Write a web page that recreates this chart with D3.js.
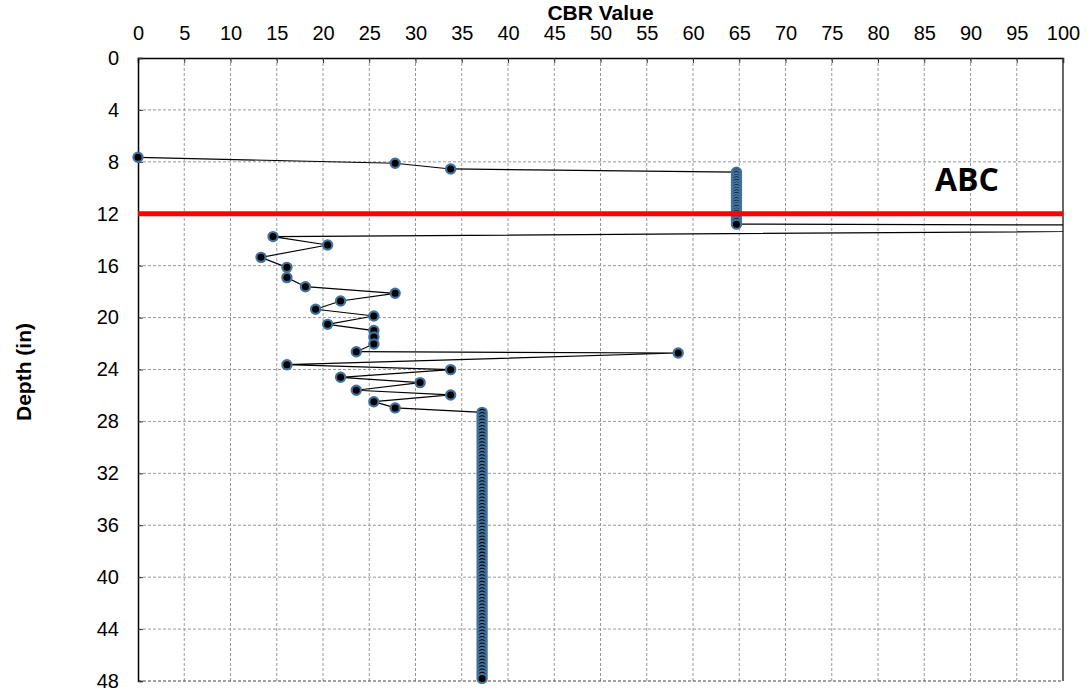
<!DOCTYPE html>
<html>
<head>
<meta charset="utf-8">
<script src="https://cdn.jsdelivr.net/npm/d3@7"></script>
<style>
  body { margin: 0; background: #fff; }
  text { font-family: "Liberation Sans", Arial, sans-serif; }
</style>
</head>
<body>
<svg id="chart"></svg>
<script>
// readings from the top down to the first dense run
const topCbr = [0, 27.8, 33.8];
const topDepth = [7.65, 8.11, 8.55];

// dense run at ~65
const upperCbr = 64.7;
const upperDepth = [8.8, 9.0, 9.2, 9.4, 9.6, 9.8, 10.0, 10.2, 10.4, 10.6, 10.8,
  11.0, 11.2, 11.4, 11.6, 11.8, 12.0, 12.2, 12.4, 12.6, 12.8];

// zigzag section (first point is off the chart to the right)
const midCbr = [180, 14.6, 20.5, 13.3, 16.1, 16.1, 18.1, 27.8, 21.9, 19.2, 25.5, 20.5,
  25.5, 25.5, 25.5, 23.6, 58.4, 16.1, 33.8, 21.9, 30.5, 23.6, 33.8, 25.5, 27.8];
const midDepth = [13.0, 13.76, 14.41, 15.36, 16.13, 16.92, 17.62, 18.13, 18.72, 19.36, 19.88, 20.52,
  21.0, 21.5, 22.03, 22.63, 22.73, 23.63, 24.01, 24.6, 25.01, 25.6, 25.96, 26.48, 26.96];

// dense run at ~37 down to the bottom
const baseCbr = 37.2;
const baseDepth = [27.3, 27.55, 27.8, 28.05, 28.3, 28.55, 28.8, 29.05, 29.3, 29.55, 29.8,
  30.05, 30.3, 30.55, 30.8, 31.05, 31.3, 31.55, 31.8, 32.05, 32.3, 32.55, 32.8, 33.05,
  33.3, 33.55, 33.8, 34.05, 34.3, 34.55, 34.8, 35.05, 35.3, 35.55, 35.8, 36.05, 36.3,
  36.55, 36.8, 37.05, 37.3, 37.55, 37.8, 38.05, 38.3, 38.55, 38.8, 39.05, 39.3, 39.55,
  39.8, 40.05, 40.3, 40.55, 40.8, 41.05, 41.3, 41.55, 41.8, 42.05, 42.3, 42.55, 42.8,
  43.05, 43.3, 43.55, 43.8, 44.05, 44.3, 44.55, 44.8, 45.05, 45.3, 45.55, 45.8, 46.05,
  46.3, 46.55, 46.8, 47.05, 47.3, 47.55, 47.8];

const xTicks = [0, 5, 10, 15, 20, 25, 30, 35, 40, 45, 50, 55, 60, 65, 70, 75, 80, 85, 90, 95, 100];
const yTicks = [0, 4, 8, 12, 16, 20, 24, 28, 32, 36, 40, 44, 48];
const markerDepth = 12;
const markerLabel = "ABC";

let data = [];
topCbr.forEach((c, i) => data.push({ cbr: c, depth: topDepth[i] }));
upperDepth.forEach((d) => data.push({ cbr: upperCbr, depth: d }));
midCbr.forEach((c, i) => data.push({ cbr: c, depth: midDepth[i] }));
baseDepth.forEach((d) => data.push({ cbr: baseCbr, depth: d }));

let width = 1091;
let height = 694;
let plotLeft = 138, plotTop = 58, plotRight = 1063, plotBottom = 681;

let svg = d3.select("#chart").attr("width", width).attr("height", height);

let x = d3.scaleLinear().domain([0, 100]).range([plotLeft, plotRight]);
let y = d3.scaleLinear().domain([0, 48]).range([plotTop, plotBottom]);

svg.append("clipPath").attr("id", "plot-clip")
  .append("rect")
  .attr("x", plotLeft).attr("y", plotTop)
  .attr("width", plotRight - plotLeft).attr("height", plotBottom - plotTop);

// grid
svg.append("g")
  .selectAll("line")
  .data(xTicks.slice(1, -1))
  .enter()
  .append("line")
  .attr("x1", (d) => x(d)).attr("x2", (d) => x(d))
  .attr("y1", plotTop).attr("y2", plotBottom)
  .attr("stroke", "#999")
  .attr("stroke-dasharray", "3,2");

svg.append("g")
  .selectAll("line")
  .data(yTicks.slice(1))
  .enter()
  .append("line")
  .attr("x1", plotLeft).attr("x2", plotRight)
  .attr("y1", (d) => y(d)).attr("y2", (d) => y(d))
  .attr("stroke", (d) => (d === 48 ? "#444" : "#999"))
  .attr("stroke-dasharray", "3,2");

// axes
let xAxis = d3.axisTop(x).tickValues(xTicks).tickSize(-5).tickPadding(18);
let yAxis = d3.axisLeft(y).tickValues(yTicks).tickSize(-5).tickPadding(19);

let gx = svg.append("g").attr("transform", "translate(0," + plotTop + ")").call(xAxis);
let gy = svg.append("g").attr("transform", "translate(" + plotLeft + ",0)").call(yAxis);

[gx, gy].forEach((g) => {
  g.select(".domain").attr("stroke", "#000").attr("stroke-width", 1.5);
  g.selectAll(".tick line").attr("stroke", "#333");
  g.selectAll(".tick text")
    .attr("font-size", 20)
    .attr("fill", "#000")
    .style("font-family", "'Liberation Sans', Arial, sans-serif");
});

svg.append("line")
  .attr("x1", plotRight).attr("x2", plotRight)
  .attr("y1", plotTop).attr("y2", plotBottom)
  .attr("stroke", "#333").attr("stroke-width", 1.5);

// series
let line = d3.line().x((d) => x(d.cbr)).y((d) => y(d.depth));

svg.append("path")
  .datum(data)
  .attr("clip-path", "url(#plot-clip)")
  .attr("d", line)
  .attr("fill", "none")
  .attr("stroke", "#000")
  .attr("stroke-width", 1.2);

svg.append("g")
  .selectAll("circle")
  .data(data.filter((d) => d.cbr <= 100))
  .enter()
  .append("circle")
  .attr("cx", (d) => x(d.cbr))
  .attr("cy", (d) => y(d.depth))
  .attr("r", 4.6)
  .attr("fill", "#000")
  .attr("stroke", "#41719c")
  .attr("stroke-width", 2.2);

// reference line
svg.append("line")
  .attr("x1", x(0)).attr("x2", x(100))
  .attr("y1", y(markerDepth)).attr("y2", y(markerDepth))
  .attr("stroke", "#ff0000")
  .attr("stroke-width", 5);

svg.append("text")
  .attr("x", 967)
  .attr("y", 191)
  .attr("text-anchor", "middle")
  .attr("font-size", 32)
  .attr("font-weight", "bold")
  .style("font-family", "'Open Sans', sans-serif")
  .text(markerLabel);

// titles
svg.append("text")
  .attr("x", (plotLeft + plotRight) / 2)
  .attr("y", 20)
  .attr("text-anchor", "middle")
  .attr("font-size", 21)
  .attr("font-weight", "bold")
  .text("CBR Value");

svg.append("text")
  .attr("transform", "rotate(-90)")
  .attr("x", -372)
  .attr("y", 31)
  .attr("text-anchor", "middle")
  .attr("font-size", 21)
  .attr("font-weight", "bold")
  .text("Depth (in)");
</script>
</body>
</html>
